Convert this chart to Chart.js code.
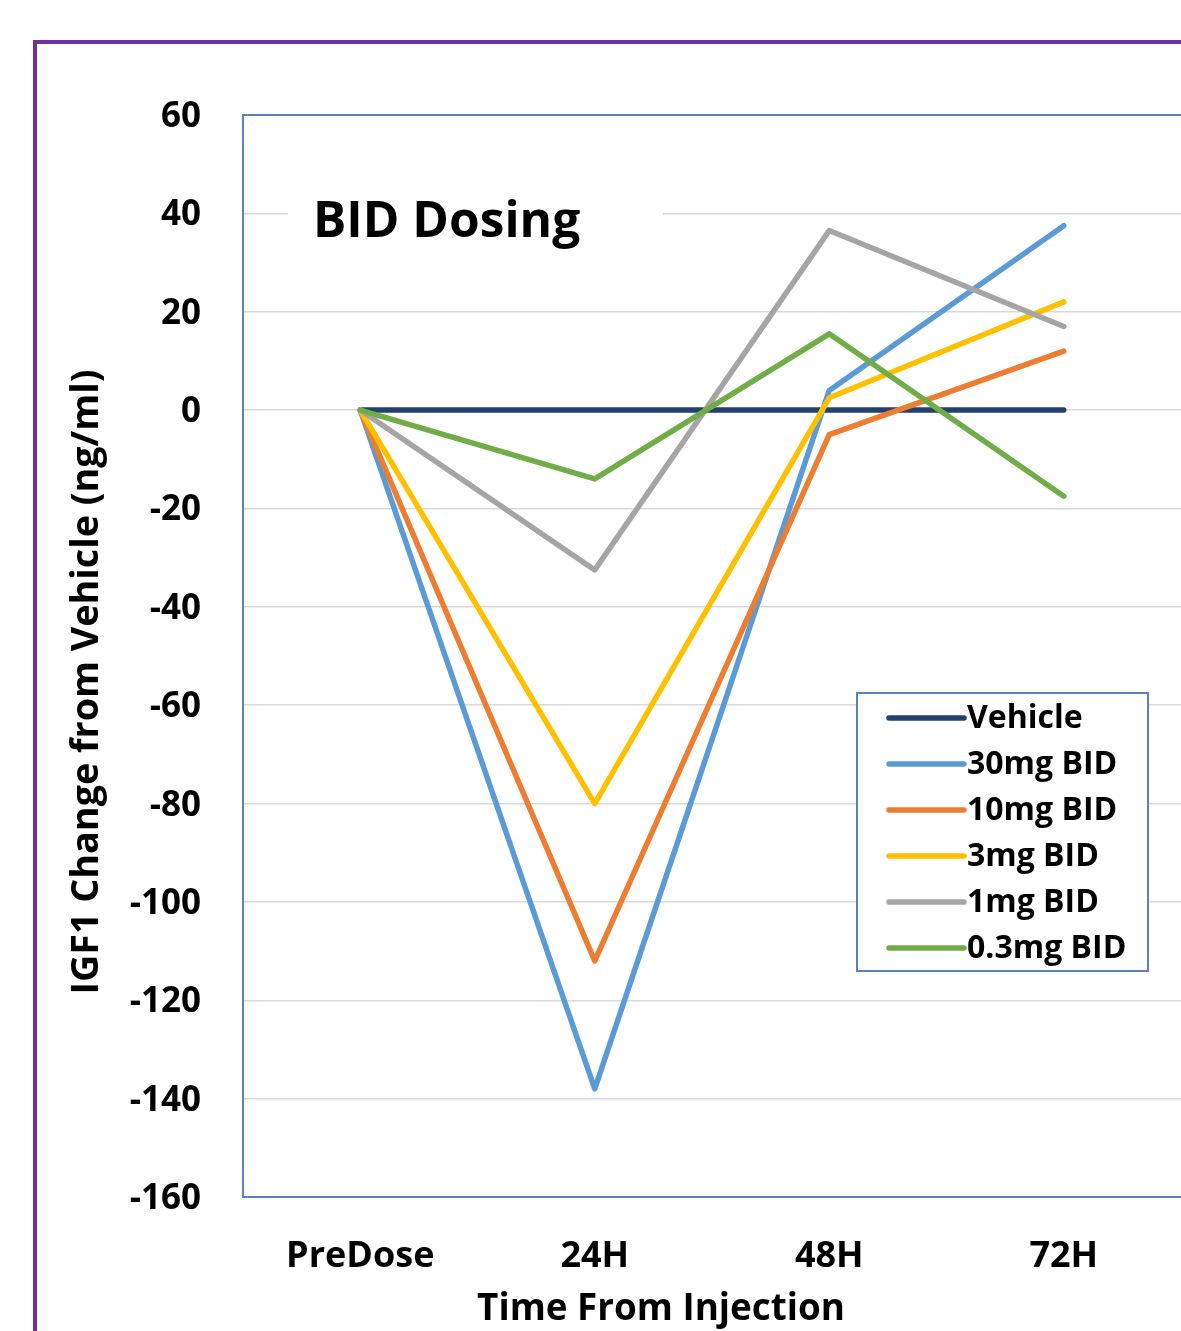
<!DOCTYPE html>
<html>
<head>
<meta charset="utf-8">
<script src="https://cdn.jsdelivr.net/npm/chart.js@4/dist/chart.umd.min.js"></script>
<style>
  html, body { margin: 0; padding: 0; background: #ffffff; }
  #wrap { width: 1181px; height: 1331px; }
</style>
</head>
<body>
<div id="wrap"><canvas id="c" width="1181" height="1331"></canvas></div>
<script>
// Time points and IGF1 change from vehicle (ng/ml) per dose group
const timepoints = ['PreDose', '24H', '48H', '72H'];
const seriesNames = ['Vehicle', '30mg BID', '10mg BID', '3mg BID', '1mg BID', '0.3mg BID'];
const vehicle   = [0, 0, 0, 0];
const mg30      = [0, -138, 4, 37.5];
const mg10      = [0, -112, -5, 12];
const mg3       = [0, -80, 2.5, 22];
const mg1       = [0, -32.5, 36.5, 17];
const mg03      = [0, -14, 15.5, -17.5];
const seriesColors = ['#23406f', '#5b9bd5', '#ed7d31', '#ffc000', '#a5a5a5', '#70ad47'];
const yTicks = { min: -160, max: 60, step: 20 };
const xTitle = 'Time From Injection';
const yTitle = 'IGF1 Change from Vehicle (ng/ml)';
const caption = 'BID Dosing';

const FONT = '"Open Sans", Lato, "DejaVu Sans", sans-serif';
const seriesValues = [vehicle, mg30, mg10, mg3, mg1, mg03];

const datasets = seriesNames.map((name, i) => ({
  label: name,
  data: seriesValues[i],
  borderColor: seriesColors[i],
  backgroundColor: seriesColors[i],
  borderWidth: 5.5,
  borderCapStyle: 'round',
  borderJoinStyle: 'round',
  pointRadius: 0,
  tension: 0,
  fill: false,
  order: seriesNames.length - i
}));

// pick a bold font size so the text spans the given width
function fitFont(ctx, text, width, base) {
  ctx.font = 'bold ' + base + 'px ' + FONT;
  const w = ctx.measureText(text).width;
  const size = base * width / w;
  return 'bold ' + size.toFixed(1) + 'px ' + FONT;
}

// Purple outer frame, plot border, axis titles, caption and legend box
const decorations = {
  id: 'decorations',
  beforeDraw(chart) {
    const ctx = chart.ctx;
    ctx.save();
    ctx.fillStyle = '#ffffff';
    ctx.fillRect(0, 0, chart.width, chart.height);
    ctx.strokeStyle = '#7030a0';
    ctx.lineWidth = 4;
    ctx.beginPath();
    ctx.moveTo(35, chart.height + 5);
    ctx.lineTo(35, 42);
    ctx.lineTo(chart.width + 5, 42);
    ctx.stroke();
    ctx.restore();
  },
  beforeDatasetsDraw(chart) {
    const ctx = chart.ctx;
    const a = chart.chartArea;
    ctx.save();
    // caption box hides the grid line behind it
    ctx.fillStyle = '#ffffff';
    ctx.fillRect(288, 186, 375, 58);
    ctx.fillStyle = '#000000';
    ctx.font = fitFont(ctx, caption, 267, 46);
    ctx.textBaseline = 'alphabetic';
    ctx.textAlign = 'left';
    ctx.fillText(caption, 313, 237);
    // plot area border
    ctx.strokeStyle = '#5b7fc9';
    ctx.lineWidth = 2;
    ctx.strokeRect(a.left, a.top, a.right - a.left + 2, a.bottom - a.top);
    // axis titles
    ctx.textAlign = 'center';
    ctx.textBaseline = 'middle';
    ctx.font = fitFont(ctx, xTitle, 368, 36);
    ctx.fillText(xTitle, 661, 1310);
    ctx.translate(87, 682);
    ctx.rotate(-Math.PI / 2);
    ctx.font = fitFont(ctx, yTitle, 625, 34);
    ctx.fillText(yTitle, 0, 0);
    ctx.restore();
  },
  afterDatasetsDraw(chart) {
    const ctx = chart.ctx;
    ctx.save();
    const bx = 857, by = 693, bw = 291, bh = 278;
    ctx.fillStyle = '#ffffff';
    ctx.fillRect(bx, by, bw, bh);
    ctx.strokeStyle = '#5b7fc9';
    ctx.lineWidth = 2;
    ctx.strokeRect(bx, by, bw, bh);
    ctx.font = fitFont(ctx, '30mg BID', 150, 30);
    ctx.textBaseline = 'middle';
    ctx.textAlign = 'left';
    chart.data.datasets.forEach((ds, i) => {
      const y = 718 + i * 46;
      ctx.strokeStyle = ds.borderColor;
      ctx.lineWidth = 5.5;
      ctx.lineCap = 'round';
      ctx.beginPath();
      ctx.moveTo(889, y);
      ctx.lineTo(964, y);
      ctx.stroke();
      ctx.fillStyle = '#000000';
      ctx.fillText(ds.label, 967, y + 1);
    });
    ctx.restore();
  }
};

new Chart(document.getElementById('c'), {
  type: 'line',
  data: { labels: timepoints, datasets },
  plugins: [decorations],
  options: {
    responsive: false,
    animation: false,
    devicePixelRatio: 1,
    layout: { padding: { top: 115, right: 0, left: 0, bottom: 0 } },
    plugins: { legend: { display: false }, tooltip: { enabled: false } },
    scales: {
      x: {
        offset: true,
        grid: { display: false, drawTicks: false },
        border: { display: false },
        ticks: { color: '#000', font: { family: FONT, size: 36, weight: 'bold' }, padding: 38, maxRotation: 0 },
        afterFit(scale) { scale.height = 134; }
      },
      y: {
        min: yTicks.min,
        max: yTicks.max,
        ticks: { stepSize: yTicks.step, color: '#000', font: { family: FONT, size: 35, weight: 'bold' }, padding: 42, labelOffset: 2 },
        grid: { color: '#d9d9d9', lineWidth: 1.5, drawTicks: false },
        border: { display: false },
        afterFit(scale) { scale.width = 243; }
      }
    }
  }
});
</script>
</body>
</html>
